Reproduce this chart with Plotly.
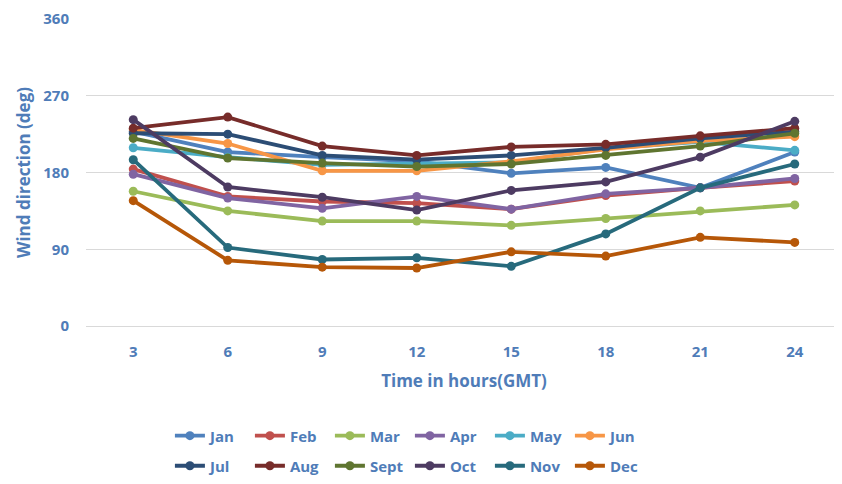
import plotly.graph_objects as go

hours = [3, 6, 9, 12, 15, 18, 21, 24]
months = ["Jan", "Feb", "Mar", "Apr", "May", "Jun", "Jul", "Aug", "Sept", "Oct", "Nov", "Dec"]

jan = [228, 204, 198, 193, 179, 186, 162, 204]
feb = [184, 152, 146, 144, 137, 153, 162, 170]
mar = [158, 135, 123, 123, 118, 126, 135, 142]
apr = [178, 150, 138, 152, 137, 155, 162, 173]
may = [209, 198, 189, 190, 192, 208, 216, 206]
jun = [230, 214, 182, 182, 193, 207, 217, 222]
jul = [226, 225, 200, 195, 200, 209, 220, 228]
aug = [232, 245, 211, 200, 210, 213, 223, 232]
sept = [220, 197, 191, 187, 190, 200, 211, 226]
octo = [242, 163, 151, 136, 159, 169, 198, 240]
nov = [195, 92, 78, 80, 70, 108, 162, 190]
dec = [147, 77, 69, 68, 87, 82, 104, 98]

series = [jan, feb, mar, apr, may, jun, jul, aug, sept, octo, nov, dec]
colors = ["#4F81BD", "#C0504D", "#9BBB59", "#8064A2", "#4BACC6", "#F79646",
          "#2C4D75", "#772C2A", "#5F7530", "#4D3B62", "#276A7C", "#B65708"]

y_ticks = [0, 90, 180, 270, 360]
text_color = "#4F7CB8"
fam = "Open Sans"

fig = go.Figure()
for i, (name, vals, col) in enumerate(zip(months, series, colors)):
    fig.add_trace(go.Scatter(
        x=hours, y=vals, name=name, mode="lines+markers",
        line=dict(color=col, width=3.8),
        marker=dict(color=col, size=9),
        legend="legend" if i < 6 else "legend2",
    ))

leg_common = dict(
    orientation="h", xanchor="left", yanchor="middle",
    entrywidth=35, entrywidthmode="pixels",
    font=dict(size=15, color=text_color, family=fam, weight="bold"),
    bgcolor="rgba(0,0,0,0)",
)

fig.update_layout(
    width=842, height=484,
    margin=dict(l=78, r=8, t=11, b=166, autoexpand=False),
    paper_bgcolor="white", plot_bgcolor="white",
    font=dict(family=fam, color=text_color, size=14),
    xaxis=dict(
        range=[1.5, 25.5], tickvals=hours, ticktext=[str(h) for h in hours],
        showgrid=False, zeroline=False, showline=False,
        tickfont=dict(size=15, color=text_color, family=fam, weight="bold"),
        ticks="", ticklabelstandoff=15,
        title=dict(text="Time in hours(GMT)", standoff=15,
                   font=dict(size=17, color=text_color, family=fam, weight="bold")),
    ),
    yaxis=dict(
        range=[0, 360], tickvals=y_ticks,
        showgrid=True, gridcolor="#D9D9D9", gridwidth=1,
        zeroline=True, zerolinecolor="#D9D9D9", zerolinewidth=1, showline=False,
        tickfont=dict(size=15, color=text_color, family=fam, weight="bold"),
        ticks="", ticklabelstandoff=16,
        title=dict(text="Wind direction (deg)", standoff=8,
                   font=dict(size=17, color=text_color, family=fam, weight="bold")),
    ),
    legend=dict(x=0.111, y=-0.358, **leg_common),
    legend2=dict(x=0.111, y=-0.456, **leg_common),
)

fig.write_html("out.html")
